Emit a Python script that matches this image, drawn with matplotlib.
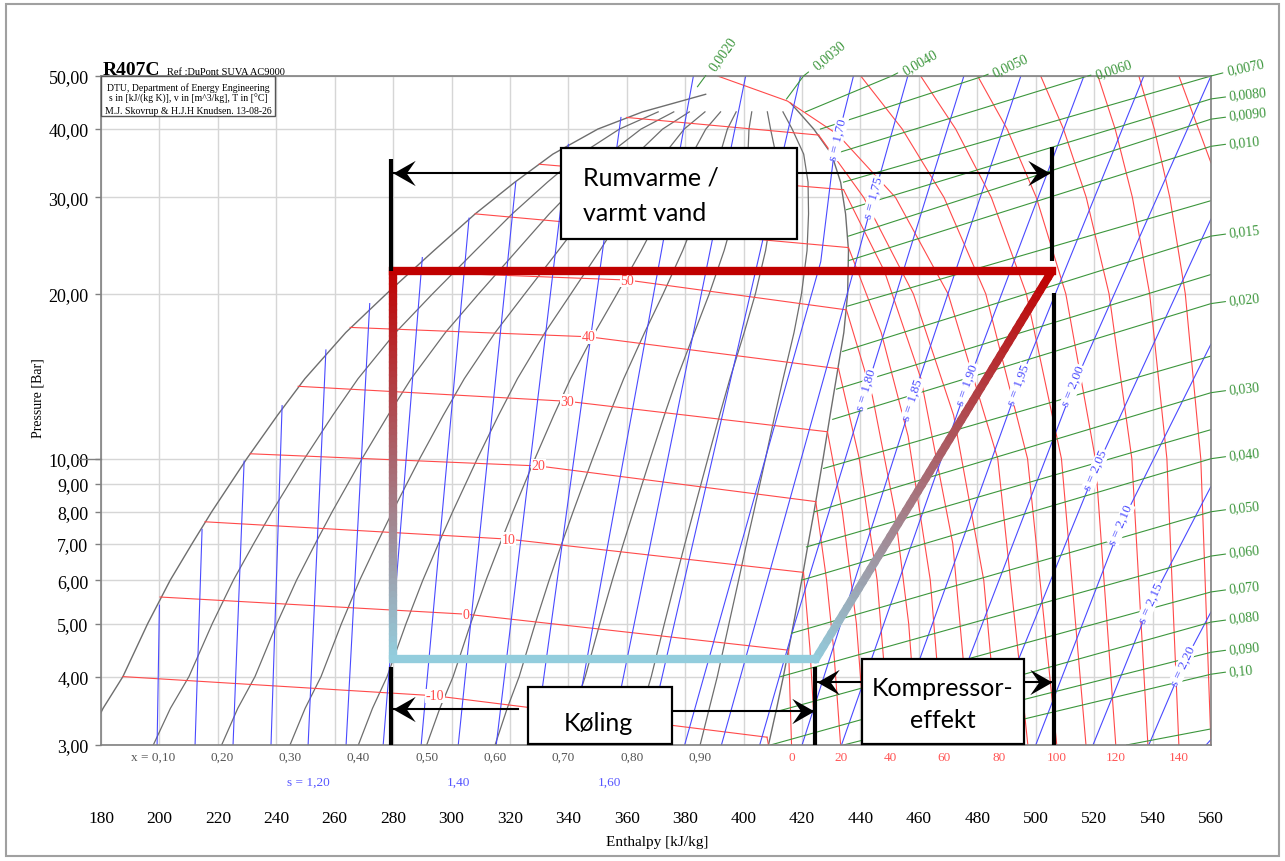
import numpy as np
import matplotlib
matplotlib.use("Agg")
import matplotlib.pyplot as plt
from matplotlib.collections import LineCollection
from matplotlib.colors import to_rgb
from matplotlib.patches import Rectangle
from matplotlib.path import Path
from matplotlib.ticker import NullLocator

SERIF = ["Liberation Serif", "DejaVu Serif"]
SANS = ["Lato", "DejaVu Sans"]

# --- saturation dome (liquid and vapour enthalpy at the same pressures) ---
dome_p = [3.0, 3.5, 4.0, 5.0, 6.0, 7.0, 8.0, 10.0, 12.0, 14.0, 17.0, 20.0,
          24.0, 28.0, 32.0, 36.0, 40.0, 43.0]
liq_h = [174.5, 180.7, 187.5, 196.0, 203.7, 211.2, 217.9, 229.9, 240.4, 249.8,
         263.8, 277.7, 294.0, 308.1, 321.7, 334.7, 350.1, 365.4]
vap_h = [408.5, 411.3, 413.6, 417.1, 419.9, 422.1, 424.1, 427.2, 429.6, 431.7,
         434.3, 435.6, 435.9, 434.9, 433.2, 430.1, 424.0, 418.8]
liq_end = (387.0, 46.3)
vap_end = (416.1, 44.6)

qualities = [0.1, 0.2, 0.3, 0.4, 0.5, 0.6, 0.7, 0.8, 0.9]
quality_labels = ["x = 0,10", "0,20", "0,30", "0,40", "0,50", "0,60", "0,70", "0,80", "0,90"]

# --- isotherms [degC] ---
temps = [-10, 0, 10, 20, 30, 40, 50, 60, 70, 80]
bubble_h = [187.5, 200.2, 215.6, 231.1, 247.5, 265.3, 285.9, 308.1, 330.0, 360.0]
bubble_p = [4.0, 5.59, 7.67, 10.21, 13.56, 17.37, 21.95, 28.0, 34.5, 42.0]
dew_h = [408.0, 415.4, 420.5, 424.7, 428.7, 432.5, 435.2, 435.9, 434.2, 425.7]
dew_p = [3.10, 4.47, 6.2, 8.35, 11.2, 14.6, 18.7, 24.3, 31.0, 39.0]
# points inside the dome where the temperature is written on the line
mark_h = [294.4, 305.1, 319.5, 329.8, 339.7, 346.9, 360.2]
mark_p = [3.69, 5.20, 7.13, 9.70, 12.73, 16.7, 21.2]

# superheated / supercritical branches, (h, p) points
sh_temps = [0, 10, 20, 30, 40, 50, 60, 70, 80, 90, 100, 110, 120, 130, 140, 150, 160]
sh_h = [
    [415.4, 416.4],
    [420.5, 422.7, 424.6],
    [424.7, 428.4, 430.8, 433.2],
    [428.7, 433.8, 438.6, 441.8],
    [432.5, 439.6, 445.7, 450.3],
    [435.2, 444.1, 451.8, 456.5, 459.6],
    [435.9, 447.1, 456.3, 463.9, 468.5],
    [434.2, 448.2, 460.7, 471.6, 477.8],
    [425.7, 441.1, 458.1, 471.9, 482.2, 487.3],
    [391.1, 415.0, 432.2, 452.0, 470.0, 487.0, 497.3],
    [440.1, 454.3, 468.6, 482.9, 497.2, 507.2],
    [460.6, 472.6, 484.8, 496.8, 508.8, 517.2],
    [480.1, 490.2, 500.2, 510.3, 520.4, 527.4],
    [501.7, 509.5, 517.3, 525.1, 532.9, 538.4],
    [521.3, 527.2, 533.1, 539.0, 544.9, 549.0],
    [535.3, 540.6, 545.9, 551.2, 556.5, 560.0],
    [549.0, 560.0],
]
sh_p = [
    [4.47, 3.0],
    [6.2, 4.5, 3.0],
    [8.35, 6.0, 4.5, 3.0],
    [11.2, 8.0, 5.0, 3.0],
    [14.6, 10.0, 6.0, 3.0],
    [18.7, 13.0, 8.0, 5.0, 3.0],
    [24.3, 17.0, 11.0, 6.0, 3.0],
    [31.0, 22.0, 14.0, 7.0, 3.0],
    [39.0, 30.0, 20.0, 12.0, 6.0, 3.0],
    [50.0, 45.0, 39.1, 30.0, 20.0, 10.0, 3.0],
    [50.0, 40.0, 30.0, 20.0, 10.0, 3.0],
    [50.0, 40.0, 30.0, 20.0, 10.0, 3.0],
    [50.0, 40.0, 30.0, 20.0, 10.0, 3.0],
    [50.0, 40.0, 30.0, 20.0, 10.0, 3.0],
    [50.0, 40.0, 30.0, 20.0, 10.0, 3.0],
    [50.0, 40.0, 30.0, 20.0, 10.0, 3.0],
    [50.0, 34.7],
]
bottom_t_labels = ["0", "20", "40", "60", "80", "100", "120", "140"]
bottom_t_h = [416.4, 433.2, 450.3, 468.5, 487.3, 507.2, 527.4, 549.0]

# --- isentropes [kJ/(kg K)] ---
s_wet = [1.00, 1.05, 1.10, 1.15, 1.20, 1.25, 1.30, 1.35, 1.40, 1.45, 1.50, 1.55, 1.60, 1.65]
s_wet_top_h = [200.0, 214.6, 229.0, 242.0, 257.0, 272.0, 290.0, 306.0, 322.0, 340.0,
               358.0, 382.8, 400.7, 419.5]
s_wet_top_p = [5.4, 7.43, 9.9, 12.5, 15.8, 19.2, 23.3, 27.5, 32.0, 37.5, 42.0, 50.0, 50.0, 50.0]
s_wet_bot_h = [199.2, 212.2, 225.2, 238.2, 250.9, 263.9, 276.6, 289.6, 302.3, 315.3,
               328.4, 341.0, 354.1, 366.7]
s_bottom_labels = ["s = 1,20", "1,40", "1,60"]
s_bottom_h = [250.9, 302.3, 354.1]

s_dry = ["1,70", "1,75", "1,80", "1,85", "1,90", "1,95", "2,00", "2,05", "2,10", "2,15", "2,20", "2,25"]
s_dry_h = [
    [379.8, 426.4, 430.8, 432.2, 437.6],
    [392.4, 435.9, 444.5, 456.2],
    [405.5, 417.5, 442.1, 475.4],
    [420.0, 457.9, 494.9],
    [433.5, 476.7, 516.5],
    [449.7, 494.2, 537.0],
    [465.8, 513.0, 560.0],
    [482.2, 520.6, 560.0],
    [500.0, 529.2, 560.0],
    [519.6, 539.4, 560.0],
    [538.7, 550.4, 560.0],
    [558.3, 560.0],
]
s_dry_p = [
    [3.0, 22.9, 35.6, 38.4, 50.0],
    [3.0, 20.4, 30.0, 50.0],
    [3.0, 5.0, 13.4, 50.0],
    [3.0, 12.86, 50.0],
    [3.0, 13.7, 50.0],
    [3.0, 13.7, 50.0],
    [3.0, 13.6, 50.0],
    [3.0, 9.57, 27.4],
    [3.0, 7.59, 16.2],
    [3.0, 5.47, 8.9],
    [3.0, 4.2, 5.25],
    [3.0, 3.07],
]
# index of the point each label sits on (None = no label)
s_dry_label_idx = [3, 2, 2, 1, 1, 1, 1, 1, 1, 1, 1, None]

# --- isochores [m^3/kg] ---
vols = ["0,0020", "0,0030", "0,0040", "0,0050", "0,0060", "0,0070", "0,0080", "0,0090",
        "0,010", "", "0,015", "", "0,020", "", "0,030", "", "0,040", "0,050", "0,060",
        "0,070", "0,080", "0,090", "0,10", ""]
v_start_h = [384.2, 414.7, 421.2, 426.3, 430.8, 434.2, 435.2, 435.9, 435.9, 435.6, 433.9,
             431.8, 430.5, 427.4, 424.3, 421.5, 419.8, 416.4, 412.7, 411.0, 409.2, 434.2,
             458.9, 531.1]
v_start_p = [47.8, 45.4, 43.0, 40.0, 36.0, 32.0, 28.5, 25.5, 23.0, 19.0, 15.7, 13.4, 11.8,
             9.6, 8.0, 6.9, 6.0, 4.8, 4.0, 3.45, 3.0, 3.0, 3.0, 3.0]
v_end_h = [386.9, 420.5, 450.7, 482.2, 517.8] + [560.0] * 19
v_end_p = [50.0, 50.0, 50.0, 50.0, 50.0, 50.0, 45.4, 41.7, 37.2, 29.6, 25.5, 21.7, 19.2,
           15.4, 13.2, 11.3, 10.0, 8.0, 6.64, 5.71, 5.03, 4.43, 4.04, 3.21]

# --- heat pump cycle ---
cycle_h = [280.0, 424.6, 505.5, 280.0]
cycle_p = [4.3, 4.3, 22.0, 22.0]

p_ticks = [3, 4, 5, 6, 7, 8, 9, 10, 20, 30, 40, 50]
h_ticks = list(range(180, 561, 20))

C_GRID = "#d6d6d6"
C_SAT = "#6e6e6e"
C_T = "#ff4a4a"
C_S = "#4a4aff"
C_V = "#3c963c"
C_HOT = "#c00000"
C_COLD = "#93cddd"

W, H = 1285, 862
fig = plt.figure(figsize=(W / 100, H / 100), dpi=100)
ax = fig.add_axes([101 / W, 1 - 746 / H, 1110 / W, 669 / H])
ax.set_yscale("log")
ax.set_xlim(180, 560)
ax.set_ylim(3, 50)

ax.set_yticks(p_ticks)
ax.set_yticklabels(["%d,00" % p for p in p_ticks], fontfamily=SERIF, fontsize=13)
ax.yaxis.set_minor_locator(NullLocator())
ax.set_xticks(h_ticks)
ax.set_xticklabels([str(h) for h in h_ticks], fontfamily=SERIF, fontsize=12.5)
ax.tick_params(axis="x", length=0, pad=47)
ax.tick_params(axis="y", length=4, width=1, color="#808080", pad=5)
for sp in ax.spines.values():
    sp.set_color("#808080")
    sp.set_linewidth(1.2)
ax.grid(True, color=C_GRID, lw=1.0)
ax.set_axisbelow(True)
ax.plot([-0.022, 0], [10, 10], color="#808080", lw=1, transform=ax.get_yaxis_transform(),
        clip_on=False)

fig.text(657 / W, 1 - 843 / H, "Enthalpy [kJ/kg]", family=SERIF, fontsize=11,
         ha="center", va="center")
fig.text(38 / W, 1 - 398 / H, "Pressure [Bar]", family=SERIF, fontsize=10,
         rotation=90, ha="center", va="center")

# saturation lines and constant-quality lines
ax.plot(liq_h + [liq_end[0]], dome_p + [liq_end[1]], color=C_SAT, lw=1.0, zorder=2)
ax.plot([vap_end[0]] + vap_h[::-1], [vap_end[1]] + dome_p[::-1], color=C_SAT, lw=1.0, zorder=2)
lh, vh = np.array(liq_h), np.array(vap_h)
xform = ax.get_xaxis_transform()
for q, lab in zip(qualities, quality_labels):
    hq = lh + q * (vh - lh)
    ax.plot(hq, dome_p, color=C_SAT, lw=0.9, zorder=2)
    ax.text(hq[0], -0.018, lab, transform=xform, ha="center", va="center",
            family=SERIF, fontsize=9.5, color="#555555")

# isotherms: two-phase part, then superheated part
for i, t in enumerate(temps):
    if i < len(mark_h):
        ax.plot([bubble_h[i], mark_h[i], dew_h[i]], [bubble_p[i], mark_p[i], dew_p[i]],
                color=C_T, lw=0.8, zorder=2)
        ax.text(mark_h[i], mark_p[i], str(t), color=C_T, fontsize=10, family=SERIF,
                ha="center", va="center", zorder=3,
                bbox=dict(fc="white", ec="none", pad=0.4))
    else:
        ax.plot([bubble_h[i], dew_h[i]], [bubble_p[i], dew_p[i]], color=C_T, lw=0.8, zorder=2)
ax.plot([dew_h[0], 408.5], [dew_p[0], 3.0], color=C_T, lw=0.8, zorder=2)
for hh, pp in zip(sh_h, sh_p):
    ax.plot(hh, pp, color=C_T, lw=0.8, zorder=2)
for lab, hh in zip(bottom_t_labels, bottom_t_h):
    ax.text(hh, -0.018, lab, transform=xform, ha="center", va="center",
            family=SERIF, fontsize=9.5, color="#ff5555")

# isentropes
for i in range(len(s_wet)):
    ax.plot([s_wet_top_h[i], s_wet_bot_h[i]], [s_wet_top_p[i], 3.0], color=C_S, lw=0.8, zorder=2)
for lab, hh in zip(s_bottom_labels, s_bottom_h):
    ax.text(hh, -0.055, lab, transform=xform, ha="center", va="center",
            family=SERIF, fontsize=9.5, color="#5555ff")
for lab, hh, pp, k in zip(s_dry, s_dry_h, s_dry_p, s_dry_label_idx):
    ax.plot(hh, pp, color=C_S, lw=0.8, zorder=2)
    if k is None:
        continue
    a = ax.transData.transform((hh[k - 1], pp[k - 1]))
    b = ax.transData.transform((hh[k + 1] if k + 1 < len(hh) else hh[k], pp[k + 1] if k + 1 < len(pp) else pp[k]))
    ang = np.degrees(np.arctan2(b[1] - a[1], b[0] - a[0]))
    ax.text(hh[k], pp[k], "s = " + lab, rotation=ang, rotation_mode="anchor",
            color=C_S, fontsize=9.5, family=SERIF, ha="center", va="center", zorder=3,
            bbox=dict(fc="white", ec="none", pad=0.3))

# isochores, labelled through short leaders past the frame
top_rot = [55, 40, 30, 25, 18, 12]
top_off = [(7, 7), (12, 9), (12, 5), (10, 3), (8, 1), (16, 5)]
for i, lab in enumerate(vols):
    ax.plot([v_start_h[i], v_end_h[i]], [v_start_p[i], v_end_p[i]], color=C_V, lw=0.8, zorder=2)
    if not lab:
        continue
    if v_end_p[i] >= 50.0:
        rot, off = top_rot[i], top_off[i]
    else:
        rot, off = 6, (18, 3)
    ax.annotate(lab, xy=(v_end_h[i], v_end_p[i]), xytext=off, textcoords="offset pixels",
                color=C_V, fontsize=10, family=SERIF, rotation=rot, rotation_mode="anchor",
                ha="left", va="center", annotation_clip=False,
                arrowprops=dict(arrowstyle="-", color=C_V, lw=0.8, shrinkA=0, shrinkB=0))

# --- heat pump cycle on top ---
def gradient(ax, h0, p0, h1, p1, c0, c1, lw, n=60):
    t = np.linspace(0, 1, n + 1)
    hh = h0 + t * (h1 - h0)
    pp = p0 * (p1 / p0) ** t
    pts = np.column_stack([hh, pp]).reshape(-1, 1, 2)
    segs = np.concatenate([pts[:-1], pts[1:]], axis=1)
    c0, c1 = np.array(to_rgb(c0)), np.array(to_rgb(c1))
    cols = [c0 + (c1 - c0) * tt for tt in (t[:-1] + t[1:]) / 2]
    lc = LineCollection(segs, colors=cols, linewidths=lw, zorder=6, capstyle="round")
    ax.add_collection(lc)

LW = 6
gradient(ax, cycle_h[1], cycle_p[1], cycle_h[2], cycle_p[2], C_COLD, C_HOT, LW)
gradient(ax, cycle_h[3], cycle_p[3], cycle_h[0], cycle_p[0], C_HOT, C_COLD, LW)
ax.plot(cycle_h[2:4], cycle_p[2:4], color=C_HOT, lw=LW, solid_capstyle="projecting", zorder=7)
ax.plot(cycle_h[0:2], cycle_p[0:2], color=C_COLD, lw=LW, solid_capstyle="projecting", zorder=7)

# bracket lines and arrows
h_liq, h_suc, h_dis = cycle_h[0] - 0.8, cycle_h[1], cycle_h[2]
for hx, pa, pb in [(h_liq, 35.2, cycle_p[3]), (h_liq, 4.16, 3.0), (h_suc, 4.16, 3.0),
                   (h_dis, 37.1, 23.0), (h_dis + 0.6, 20.1, 3.0)]:
    ax.plot([hx, hx], [pa, pb], color="black", lw=3, zorder=8, solid_capstyle="butt",
            clip_on=False)

def ax_frac(px, py):
    return ((px - 101) / 1110, (746 - py) / 669)

def box(x0, y0, x1, y1):
    a0, b1 = ax_frac(x0, y0)
    a1, b0 = ax_frac(x1, y1)
    ax.add_patch(Rectangle((a0, b0), a1 - a0, b1 - b0, transform=ax.transAxes,
                           fc="white", ec="black", lw=1.6, zorder=9, clip_on=False))

# notched arrow head, tip at the origin
HEAD_R = Path([(0, 0), (-1, 0.57), (-0.6, 0), (-1, -0.57), (0, 0)],
              [Path.MOVETO, Path.LINETO, Path.LINETO, Path.LINETO, Path.CLOSEPOLY])
HEAD_L = Path([(0, 0), (1, 0.57), (0.6, 0), (1, -0.57), (0, 0)],
              [Path.MOVETO, Path.LINETO, Path.LINETO, Path.LINETO, Path.CLOSEPOLY])

def bracket_arrow(h_from, h_to, p):
    ax.plot([h_from, h_to], [p, p], color="black", lw=1.5, zorder=8, clip_on=False)
    head = HEAD_R if h_to > h_from else HEAD_L
    ax.plot([h_to], [p], marker=head, markersize=32, color="black", mew=0, zorder=8,
            clip_on=False)

hx = lambda px: 180 + (px - 101) * 20 / 58.37

box(561, 149, 797, 240)
bracket_arrow(hx(561), h_liq + 0.6, 33.3)
bracket_arrow(hx(797), h_dis - 0.5, 33.3)
ax.text(*ax_frac(583, 186), "Rumvarme /", transform=ax.transAxes, family=SANS, fontsize=18,
        ha="left", va="baseline", zorder=10)
ax.text(*ax_frac(583, 221), "varmt vand", transform=ax.transAxes, family=SANS, fontsize=18,
        ha="left", va="baseline", zorder=10)

box(528, 688, 672, 745)
bracket_arrow(hx(518), h_liq + 0.6, 3.49)
bracket_arrow(hx(672), h_suc - 0.5, 3.46)
ax.text(*ax_frac(598, 731), "Køling", transform=ax.transAxes, family=SANS, fontsize=18,
        ha="center", va="baseline", zorder=10)

box(862, 660, 1024, 745)
bracket_arrow(hx(862), h_suc + 0.5, 3.91)
bracket_arrow(hx(1024), h_dis, 3.91)
ax.text(*ax_frac(943, 696), "Kompressor-", transform=ax.transAxes, family=SANS, fontsize=18,
        ha="center", va="baseline", zorder=10)
ax.text(*ax_frac(943, 728), "effekt", transform=ax.transAxes, family=SANS, fontsize=18,
        ha="center", va="baseline", zorder=10)

# header
fig.patches.append(Rectangle((101 / W, 1 - 117 / H), 174 / W, 40 / H, transform=fig.transFigure,
                             fc="white", ec="#555555", lw=1.0, zorder=3))
fig.text(103 / W, 1 - 75 / H, "R407C", family=SERIF, fontsize=14, fontweight="bold",
         ha="left", va="baseline")
fig.text(167 / W, 1 - 75 / H, "Ref :DuPont SUVA AC9000", family=SERIF, fontsize=7.5,
         ha="left", va="baseline")
for k, line in enumerate(["DTU, Department of Energy Engineering",
                          "s in [kJ/(kg K)], v in [m^3/kg], T in [\u00b0C]",
                          "M.J. Skovrup & H.J.H Knudsen. 13-08-26"]):
    fig.text(188 / W, 1 - (88 + 11.5 * k) / H, line, family=SERIF, fontsize=7,
             ha="center", va="center", zorder=4)

fig.patches.append(Rectangle((6 / W, 5 / H), 1273 / W, 852 / H, transform=fig.transFigure,
                             fc="none", ec="#a0a0a0", lw=1.5))

fig.savefig("out.png", dpi=100)
